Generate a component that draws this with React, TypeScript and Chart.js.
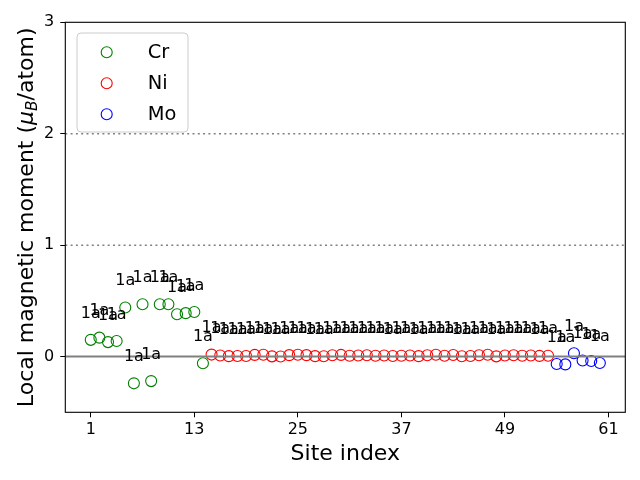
import React, { useEffect, useRef } from "react";
import { Chart, registerables } from "chart.js";

Chart.register(...registerables);

// ---------- data ----------
const crSites = [1, 2, 3, 4, 5, 6, 7, 8, 9, 10, 11, 12, 13, 14];
const crMoments = [0.15, 0.17, 0.13, 0.14, 0.44, -0.24, 0.47, -0.22, 0.47, 0.47, 0.38, 0.39, 0.4, -0.06];

const niSites = [
  15, 16, 17, 18, 19, 20, 21, 22, 23, 24, 25, 26, 27, 28, 29, 30, 31, 32, 33, 34,
  35, 36, 37, 38, 39, 40, 41, 42, 43, 44, 45, 46, 47, 48, 49, 50, 51, 52, 53, 54,
];
const niMoments = [
  0.018, 0.01, 0.004, 0.005, 0.005, 0.015, 0.016, 0.002, 0.001, 0.013,
  0.016, 0.013, 0.004, 0.003, 0.012, 0.015, 0.008, 0.01, 0.012, 0.008,
  0.01, 0.005, 0.008, 0.01, 0.004, 0.012, 0.016, 0.008, 0.014, 0.003,
  0.005, 0.012, 0.016, 0.002, 0.01, 0.012, 0.008, 0.01, 0.006, 0.008,
];

const moSites = [55, 56, 57, 58, 59, 60];
const moMoments = [-0.066, -0.07, 0.03, -0.035, -0.04, -0.057];

const xTicks = [1, 13, 25, 37, 49, 61];
const yTicks = [0, 1, 2, 3];
const dottedLevels = [1, 2];
const siteLabel = "1a";

const seriesNames = ["Cr", "Ni", "Mo"];
const seriesColors = ["#008000", "#ff0000", "#0000ff"];

const FONT = "'DejaVu Sans', sans-serif";

const toPoints = (xs: number[], ys: number[]) => xs.map((x, i) => ({ x, y: ys[i] }));

const overlayPlugin = {
  id: "overlay",
  afterDatasetsDraw(chart: any) {
    const { ctx, chartArea: a } = chart;
    const xs = chart.scales.x;
    const ys = chart.scales.y;

    // reference lines
    ctx.save();
    ctx.beginPath();
    ctx.rect(a.left, a.top, a.right - a.left, a.bottom - a.top);
    ctx.clip();
    ctx.strokeStyle = "#808080";
    ctx.lineWidth = 2;
    ctx.setLineDash([]);
    const y0 = ys.getPixelForValue(0);
    ctx.beginPath();
    ctx.moveTo(a.left, y0);
    ctx.lineTo(a.right, y0);
    ctx.stroke();
    ctx.lineWidth = 1.5;
    ctx.setLineDash([2, 3.3]);
    for (const v of dottedLevels) {
      const yy = ys.getPixelForValue(v);
      ctx.beginPath();
      ctx.moveTo(a.left, yy);
      ctx.lineTo(a.right, yy);
      ctx.stroke();
    }
    ctx.restore();

    // site labels
    ctx.save();
    ctx.font = `16px ${FONT}`;
    ctx.fillStyle = "#000";
    ctx.textAlign = "center";
    ctx.textBaseline = "alphabetic";
    chart.data.datasets.forEach((ds: any) => {
      ds.data.forEach((p: any) => {
        ctx.fillText(siteLabel, xs.getPixelForValue(p.x), ys.getPixelForValue(p.y + 0.2));
      });
    });
    ctx.restore();

    // frame
    ctx.save();
    ctx.strokeStyle = "#000";
    ctx.lineWidth = 1.1;
    ctx.strokeRect(a.left, a.top, a.right - a.left, a.bottom - a.top);
    ctx.restore();

    // legend
    ctx.save();
    const lx = 77, ly = 33, lw = 111, lh = 99, r = 4;
    ctx.beginPath();
    ctx.moveTo(lx + r, ly);
    ctx.lineTo(lx + lw - r, ly);
    ctx.quadraticCurveTo(lx + lw, ly, lx + lw, ly + r);
    ctx.lineTo(lx + lw, ly + lh - r);
    ctx.quadraticCurveTo(lx + lw, ly + lh, lx + lw - r, ly + lh);
    ctx.lineTo(lx + r, ly + lh);
    ctx.quadraticCurveTo(lx, ly + lh, lx, ly + lh - r);
    ctx.lineTo(lx, ly + r);
    ctx.quadraticCurveTo(lx, ly, lx + r, ly);
    ctx.closePath();
    ctx.fillStyle = "rgba(255,255,255,0.8)";
    ctx.fill();
    ctx.strokeStyle = "#cccccc";
    ctx.lineWidth = 1;
    ctx.stroke();
    ctx.font = `19.4px ${FONT}`;
    ctx.textAlign = "left";
    ctx.textBaseline = "alphabetic";
    seriesNames.forEach((name, i) => {
      const cy = 52.3 + i * 31;
      ctx.beginPath();
      ctx.arc(106.7, cy, 5.5, 0, Math.PI * 2);
      ctx.strokeStyle = seriesColors[i];
      ctx.lineWidth = 1.1;
      ctx.stroke();
      ctx.fillStyle = "#000";
      ctx.fillText(name, 147.7, cy + 5.5);
    });
    ctx.restore();

    // axis titles
    ctx.save();
    ctx.fillStyle = "#000";
    ctx.font = `22px ${FONT}`;
    ctx.textAlign = "center";
    ctx.textBaseline = "alphabetic";
    ctx.fillText("Site index", (a.left + a.right) / 2, 460);
    ctx.restore();

    ctx.save();
    ctx.fillStyle = "#000";
    ctx.translate(33, (a.top + a.bottom) / 2);
    ctx.rotate(-Math.PI / 2);
    ctx.textAlign = "left";
    ctx.textBaseline = "alphabetic";
    const p1 = "Local magnetic moment (";
    const mu = "μ";
    const sub = "B";
    const p3 = "/atom)";
    const fNorm = `22px ${FONT}`;
    const fIt = `italic 22px ${FONT}`;
    const fSub = `italic 15.4px ${FONT}`;
    ctx.font = fNorm;
    const w1 = ctx.measureText(p1).width;
    const w3 = ctx.measureText(p3).width;
    ctx.font = fIt;
    const wmu = ctx.measureText(mu).width;
    ctx.font = fSub;
    const wsub = ctx.measureText(sub).width;
    let cx = -(w1 + wmu + wsub + w3) / 2;
    ctx.font = fNorm;
    ctx.fillText(p1, cx, 0);
    cx += w1;
    ctx.font = fIt;
    ctx.fillText(mu, cx, 0);
    cx += wmu;
    ctx.font = fSub;
    ctx.fillText(sub, cx, 4);
    cx += wsub;
    ctx.font = fNorm;
    ctx.fillText(p3, cx, 0);
    ctx.restore();
  },
};

export default function App() {
  const ref = useRef<HTMLCanvasElement | null>(null);

  useEffect(() => {
    if (!ref.current) return;
    const mk = (label: string, xs: number[], ys: number[], color: string) => ({
      label,
      data: toPoints(xs, ys),
      borderColor: color,
      backgroundColor: "rgba(0,0,0,0)",
      pointBackgroundColor: "rgba(0,0,0,0)",
      pointBorderColor: color,
      pointBorderWidth: 1.1,
      pointRadius: 5.5,
      pointHoverRadius: 5.5,
      showLine: false,
    });
    const chart = new Chart(ref.current, {
      type: "scatter",
      data: {
        datasets: [
          mk(seriesNames[0], crSites, crMoments, seriesColors[0]),
          mk(seriesNames[1], niSites, niMoments, seriesColors[1]),
          mk(seriesNames[2], moSites, moMoments, seriesColors[2]),
        ],
      },
      options: {
        responsive: false,
        animation: false,
        events: [],
        layout: { padding: { left: 0, top: 22.3, right: 14.7, bottom: 0 } },
        plugins: { legend: { display: false }, tooltip: { enabled: false } },
        scales: {
          x: {
            type: "linear",
            min: -1.95,
            max: 62.95,
            afterBuildTicks: (s: any) => {
              s.ticks = xTicks.map((v) => ({ value: v }));
            },
            afterFit: (s: any) => {
              s.height = 480 - 412.3;
            },
            ticks: {
              color: "#000",
              font: { family: FONT, size: 16 },
              padding: 3,
              maxRotation: 0,
              autoSkip: false,
              callback: (v: any) => String(v),
            },
            grid: { display: true, drawOnChartArea: false, drawTicks: true, tickLength: 5, color: "#000", lineWidth: 1 },
            border: { display: false },
          },
          y: {
            type: "linear",
            min: -0.5,
            max: 3,
            afterBuildTicks: (s: any) => {
              s.ticks = yTicks.map((v) => ({ value: v }));
            },
            afterFit: (s: any) => {
              s.width = 65.3;
            },
            ticks: {
              color: "#000",
              font: { family: FONT, size: 16 },
              padding: 6,
              autoSkip: false,
              callback: (v: any) => String(v),
            },
            grid: { display: true, drawOnChartArea: false, drawTicks: true, tickLength: 5, color: "#000", lineWidth: 1 },
            border: { display: false },
          },
        },
      },
      plugins: [overlayPlugin],
    });
    return () => chart.destroy();
  }, []);

  return (
    <div style={{ position: "fixed", left: 0, top: 0, width: 640, height: 480, background: "#fff" }}>
      <canvas ref={ref} width={640} height={480} />
    </div>
  );
}
